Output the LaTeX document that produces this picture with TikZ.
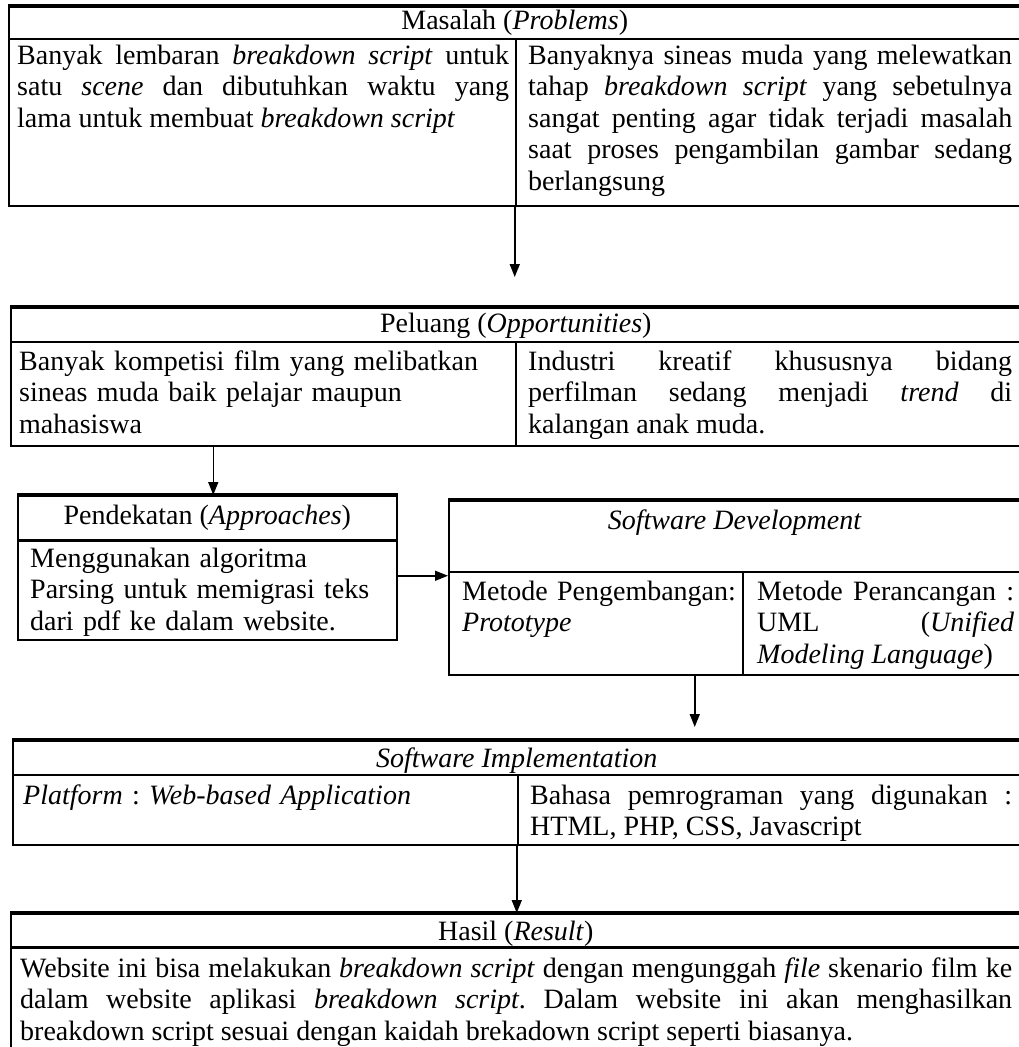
\documentclass[tikz,border=0pt]{standalone}
\usepackage{fontspec}
\setmainfont{Liberation Serif}
\usetikzlibrary{arrows.meta,positioning}
\frenchspacing

\newcommand\cellfont{\fontsize{28}{31.5}\selectfont}
\tikzset{
  kotak/.style={draw, line width=1.5pt, inner sep=0pt, anchor=north west},
  atas/.style={line width=3.5pt},
  garis/.style={line width=1.5pt},
  garistebal/.style={line width=3pt},
  judul/.style={anchor=base, inner sep=0pt, font=\cellfont},
  isi/.style={anchor=north west, inner sep=0pt, font=\cellfont},
  panah/.style={line width=1.5pt, -{Triangle[length=13pt,width=10pt]}},
}

\begin{document}
\begin{tikzpicture}[x=1pt, y=-1pt]
  \useasboundingbox[fill=white] (0,0) rectangle (1018,1047);

  % Masalah
  \node[kotak, minimum width=1012pt, minimum height=199pt] (masalah) at (8,6) {};
  \draw[atas] (masalah.north west) -- (masalah.north east);
  \draw[garis] (masalah.west |- 0,39) -- (masalah.east |- 0,39);
  \draw[garis] (516,39) -- (516,205);
  \node[judul] (masalahjudul) at (masalah.north |- 0,29) {Masalah (\textit{Problems})};
  \node[isi, text width=492pt, align=justify] (masalahkiri) at (17,42)
    {\strut Banyak lembaran \textit{breakdown script} untuk\linebreak
     satu \textit{scene} dan dibutuhkan waktu yang\linebreak
     lama untuk membuat \textit{breakdown script}};
  \node[isi, text width=484pt, align=justify] (masalahkanan) at (528,42)
    {\strut Banyaknya sineas muda yang melewatkan\linebreak
     tahap \textit{breakdown script} yang sebetulnya\linebreak
     sangat penting agar tidak terjadi masalah\linebreak
     saat proses pengambilan gambar sedang\linebreak
     berlangsung};

  % Peluang
  \node[kotak, minimum width=1010pt, minimum height=138pt] (peluang) at (10,307) {};
  \draw[atas] (peluang.north west) -- (peluang.north east);
  \draw[garis] (peluang.west |- 0,342) -- (peluang.east |- 0,342);
  \draw[garis] (516,342) -- (516,445);
  \node[judul] (peluangjudul) at (peluang.north |- 0,332) {Peluang (\textit{Opportunities})};
  \node[isi, text width=490pt, align=left] (peluangkiri) at (19,348)
    {\strut Banyak kompetisi film yang melibatkan\\
     sineas muda baik pelajar maupun\\
     mahasiswa};
  \node[isi, text width=484pt, align=justify] (peluangkanan) at (528,348)
    {\strut Industri kreatif khususnya bidang\linebreak
     perfilman sedang menjadi \textit{trend} di\linebreak
     kalangan anak muda.};

  % Pendekatan
  \node[kotak, minimum width=379pt, minimum height=144pt] (pendekatan) at (17,495) {};
  \draw[atas] (pendekatan.north west) -- (pendekatan.north east);
  \draw[garistebal] (pendekatan.west |- 0,540) -- (pendekatan.east |- 0,540);
  \node[judul] (pendekatanjudul) at (pendekatan.north |- 0,524) {Pendekatan (\textit{Approaches})};
  \node[isi, text width=360pt, align=left] (pendekatanisi) at (30,545)
    {\strut Menggunakan algoritma\\
     Parsing untuk memigrasi teks\\
     dari pdf ke dalam website.};

  % Software Development
  \node[kotak, minimum width=572pt, minimum height=174pt] (sd) at (448,500) {};
  \draw[atas] (sd.north west) -- (sd.north east);
  \draw[garis] (sd.west |- 0,572) -- (sd.east |- 0,572);
  \draw[garis] (743,572) -- (743,674);
  \node[judul] (sdjudul) at (sd.north |- 0,529) {\textit{Software Development}};
  \node[isi, text width=275pt, align=left] (sdkiri) at (462,578)
    {\strut Metode Pengembangan:\\
     \textit{Prototype}};
  \node[isi, text width=257pt, align=justify] (sdkanan) at (757,578)
    {\strut Metode Perancangan :\linebreak
     UML (\textit{Unified}\linebreak
     \textit{Modeling Language})};

  % Software Implementation
  \node[kotak, minimum width=1008pt, minimum height=104pt] (si) at (12,740) {};
  \draw[atas] (si.north west) -- (si.north east);
  \draw[garis] (si.west |- 0,775) -- (si.east |- 0,775);
  \draw[garis] (518,775) -- (518,844);
  \node[judul] (sijudul) at (si.north |- 0,767) {\textit{Software Implementation}};
  \node[isi, text width=485pt, align=left] (sikiri) at (23,782)
    {\strut\textit{Platform} : \textit{Web-based Application}};
  \node[isi, text width=482pt, align=justify] (sikanan) at (530,782)
    {\strut Bahasa pemrograman yang digunakan :\linebreak
     HTML, PHP, CSS, Javascript};

  % Hasil
  \node[kotak, minimum width=1010pt, minimum height=137pt] (hasil) at (10,913) {};
  \draw[atas] (hasil.north west) -- (hasil.north east);
  \draw[garistebal] (hasil.west |- 0,947) -- (hasil.east |- 0,947);
  \node[judul] (hasiljudul) at (hasil.north |- 0,940) {Hasil (\textit{Result})};
  \node[isi, text width=992pt, align=justify] (hasilisi) at (20,955)
    {\strut Website ini bisa melakukan \textit{breakdown script} dengan mengunggah \textit{file} skenario film ke\linebreak
     dalam website aplikasi \textit{breakdown script}. Dalam website ini akan menghasilkan\linebreak
     breakdown script sesuai dengan kaidah brekadown script seperti biasanya.};

  % arrows
  \draw[panah] (masalah.south) -- ([yshift=30pt]masalah.south |- peluang.north);
  \draw[panah] ([xshift=6pt]pendekatan.north |- peluang.south) -- ([xshift=6pt]pendekatan.north);
  \draw[panah] ([yshift=-8pt]pendekatan.east) -- ([yshift=-8pt]pendekatan.east -| sd.west);
  \draw[panah] ([xshift=-40pt]sd.south) -- ([xshift=-40pt,yshift=13pt]sd.south |- si.north);
  \draw[panah] (si.south) -- (si.south |- hasil.north);
\end{tikzpicture}
\end{document}
